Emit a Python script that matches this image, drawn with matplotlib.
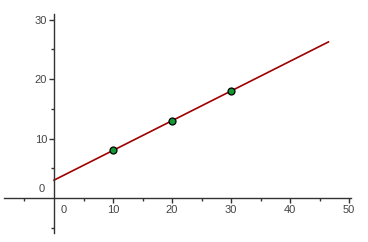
import numpy as np
import matplotlib
matplotlib.use("Agg")
import matplotlib.pyplot as plt

plt.rcParams["font.family"] = ["Liberation Sans", "DejaVu Sans"]

# points
pts_x = [10, 20, 30]
pts_y = [8, 13, 18]

# fitted line y = 3 + 0.5 x, drawn from x=0 to about x=46.5
line_x = [0, 46.5]
line_y = [3, 26.25]

xticks = [10, 20, 30, 40, 50]
yticks = [10, 20, 30]

fig = plt.figure(figsize=(3.68, 2.42), dpi=100)
ax = fig.add_axes([0, 0, 1, 1])
ax.set_xlim(-9.15, 53.2)
ax.set_ylim(-7.4, 33.3)

ax.plot(line_x, line_y, color="#a00000", lw=1.2, zorder=2)
ax.plot(pts_x, pts_y, "o", ms=5, mfc="#119933", mec="black", mew=0.9, zorder=3)

for side in ["top", "right"]:
    ax.spines[side].set_visible(False)
ax.spines["left"].set_position(("data", 0))
ax.spines["bottom"].set_position(("data", 0))
ax.spines["left"].set_bounds(-5.9, 31)
ax.spines["bottom"].set_bounds(-8.5, 50.3)
for s in ["left", "bottom"]:
    ax.spines[s].set_color("#333333")
    ax.spines[s].set_linewidth(1.0)

ax.set_xticks(xticks)
ax.set_yticks(yticks)
ax.set_xticks([-5, 5, 15, 25, 35, 45], minor=True)
ax.set_yticks([-5, 5, 15, 25], minor=True)
ax.tick_params(which="major", direction="out", length=3.5, width=1, color="#333333",
               labelsize=8, labelcolor="#444444", pad=1.5)
ax.tick_params(which="minor", direction="out", length=2, width=1, color="#333333")

ax.text(1.2, -1.2, "0", fontsize=8, color="#444444", ha="left", va="top")
ax.text(-1.5, 0.6, "0", fontsize=8, color="#444444", ha="right", va="bottom")

fig.savefig("out.png", dpi=100)
